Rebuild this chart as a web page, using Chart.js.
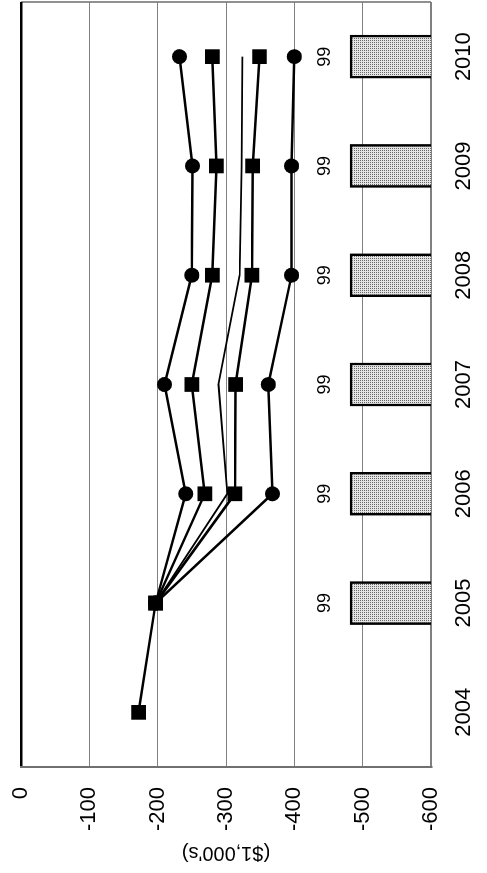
<!DOCTYPE html>
<html>
<head>
<meta charset="utf-8">
<script src="https://cdn.jsdelivr.net/npm/chart.js@4/dist/chart.umd.min.js"></script>
<style>
    html, body { margin: 0; padding: 0; background: #fff; overflow: hidden; }
    /* chart is drawn landscape, then turned a quarter turn to the left */
    #wrap {
        position: absolute; left: 0; top: 0;
        width: 873px; height: 487px;
        transform-origin: 0 0;
        transform: translateY(873px) rotate(-90deg);
    }
</style>
</head>
<body>
<div id="wrap"><canvas id="reserveChart" width="873" height="487"></canvas></div>
<script>
    const years = ['2004', '2005', '2006', '2007', '2008', '2009', '2010'];
    const circlesLow  = [null, -197, -241, -210, -250, -251, -232];
    const squaresLow  = [-172, -197, -269, -250, -280, -286, -280];
    const plainLine   = [null, -197, -302, -289, -320, -323, -324];
    const squaresHigh = [null, -197, -313, -314, -338, -339, -349];
    const circlesHigh = [null, -197, -368, -362, -396, -396, -400];
    const barValues   = [null, 99, 99, 99, 99, 99, 99];
    const yTicks = [0, -100, -200, -300, -400, -500, -600];

    (function() {
        'use strict';

        Chart.defaults.font.family = '"Liberation Sans", Arial, sans-serif';
        Chart.defaults.color = '#000';

        // dotted grey fill for the bars
        function dotPattern() {
            const c = document.createElement('canvas');
            c.width = 2; c.height = 2;
            const p = c.getContext('2d');
            p.fillStyle = '#e4e4e4';
            p.fillRect(0, 0, 2, 2);
            p.fillStyle = '#666';
            p.fillRect(0, 0, 1, 1);
            return p.createPattern(c, 'repeat');
        }

        const barLabels = {
            id: 'barLabels',
            afterDatasetsDraw(chart) {
                const ctx = chart.ctx;
                const meta = chart.getDatasetMeta(0);
                ctx.save();
                ctx.font = '18px "Liberation Sans", Arial, sans-serif';
                ctx.fillStyle = '#000';
                ctx.textAlign = 'center';
                ctx.textBaseline = 'middle';
                meta.data.forEach(function(bar, i) {
                    if (barValues[i] == null) return;
                    ctx.fillText(String(barValues[i]), bar.x, bar.y - 25);
                });
                ctx.restore();
            }
        };

        function lineSet(data, style) {
            return {
                type: 'line',
                data: data,
                borderColor: '#000',
                borderWidth: style ? 2.5 : 1.8,
                backgroundColor: '#000',
                pointStyle: style || 'circle',
                pointRadius: style === 'rect' ? 10.4 : (style ? 7.5 : 0),
                pointBackgroundColor: '#000',
                pointBorderWidth: 0,
                tension: 0,
                yAxisID: 'y',
                order: 1
            };
        }

        const ctx = document.getElementById('reserveChart').getContext('2d');

        new Chart(ctx, {
            type: 'bar',
            data: {
                labels: years,
                datasets: [
                    {
                        data: barValues,
                        backgroundColor: dotPattern(),
                        borderColor: '#000',
                        borderWidth: 2.7,
                        categoryPercentage: 0.8,
                        barPercentage: 0.5,
                        yAxisID: 'y2',
                        order: 2
                    },
                    lineSet(circlesLow, 'circle'),
                    lineSet(plainLine, null),
                    lineSet(circlesHigh, 'circle'),
                    lineSet(squaresHigh, 'rect'),
                    lineSet(squaresLow, 'rect')
                ]
            },
            options: {
                responsive: false,
                animation: false,
                layout: { autoPadding: false, padding: { top: 21, right: 2, bottom: 0, left: 8 } },
                plugins: {
                    legend: { display: false },
                    tooltip: { enabled: false }
                },
                scales: {
                    x: {
                        offset: true,
                        grid: {
                            drawTicks: false,
                            // only the closing edge on the far side of the plot
                            color: function(c) { return c.type === 'tick' ? 'rgba(0,0,0,0)' : '#909090'; },
                            lineWidth: 2
                        },
                        border: { display: false },
                        ticks: { font: { size: 22 }, padding: 20, maxRotation: 0 },
                        afterFit: function(scale) { scale.height = 56; }
                    },
                    y: {
                        min: -600,
                        max: 0,
                        afterBuildTicks: function(scale) {
                            scale.ticks = yTicks.map(function(v) { return { value: v }; });
                        },
                        ticks: { font: { size: 22 }, padding: 0 },
                        grid: {
                            drawTicks: true,
                            tickLength: 20,
                            tickColor: 'rgba(0,0,0,0)',
                            color: function(c) { return c.tick && c.tick.value === 0 ? '#000' : '#808080'; },
                            lineWidth: function(c) {
                                if (!c.tick) return 1;
                                if (c.tick.value === 0) return 2.5;
                                if (c.tick.value === -600) return 2;
                                return 1;
                            }
                        },
                        border: { color: '#707070', width: 2 },
                        title: {
                            display: true,
                            text: "($1,000's)",
                            font: { size: 20 },
                            padding: 0
                        },
                        afterFit: function(scale) { scale.width = 98; }
                    },
                    y2: {
                        display: false,
                        min: 0,
                        max: 500
                    }
                }
            },
            plugins: [barLabels]
        });
    })();
</script>
</body>
</html>
